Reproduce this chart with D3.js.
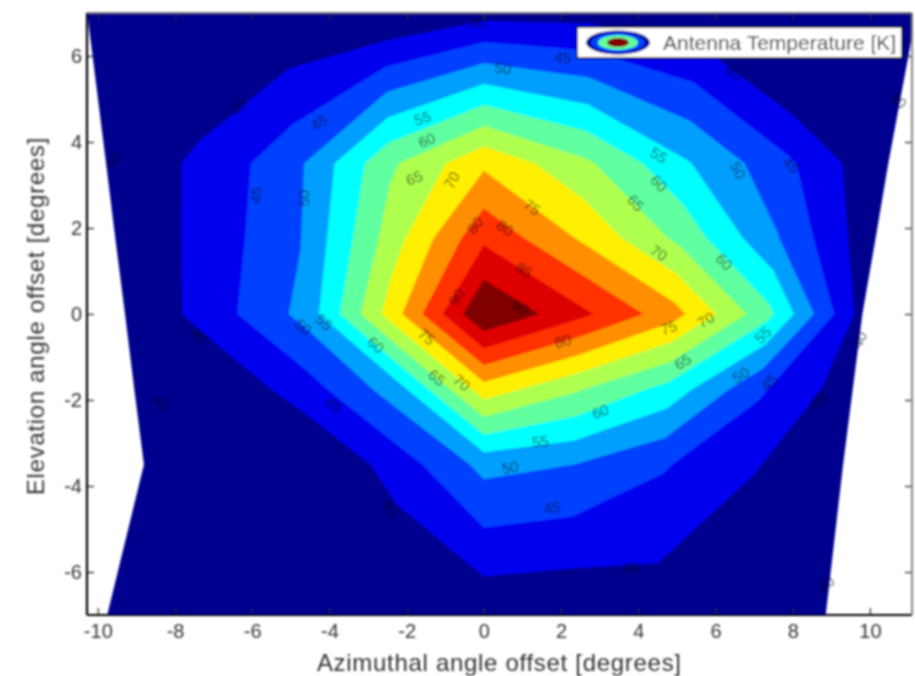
<!DOCTYPE html>
<html>
<head>
<meta charset="utf-8">
<script src="https://cdn.jsdelivr.net/npm/d3@7"></script>
<style>
  body { margin: 0; background: #fff; }
  text { font-family: "Liberation Sans", Arial, Helvetica, sans-serif; }
</style>
</head>
<body>
<svg id="chart" width="915" height="676"></svg>
<script>
// elevation offset of each scan row [degrees]
const elevations = [7, 3.5, 1.75, 0, -1.75, -3.5, -7];
// azimuth offset of the 9 scan points in each row [degrees]
const azimuths = [
  [-10.27, -7.70, -5.14, -2.57, 0, 2.80, 5.60, 8.40, 11.20],
  [-9.78, -7.34, -4.89, -2.45, 0, 2.62, 5.24, 7.85, 10.47],
  [-9.54, -7.15, -4.77, -2.38, 0, 2.53, 5.07, 7.60, 10.14],
  [-9.29, -6.97, -4.65, -2.32, 0, 2.45, 4.90, 7.35, 9.80],
  [-9.05, -6.79, -4.53, -2.26, 0, 2.39, 4.78, 7.17, 9.55],
  [-8.80, -6.60, -4.40, -2.20, 0, 2.33, 4.65, 6.98, 9.30],
  [-9.75, -7.31, -4.88, -2.44, 0, 2.21, 4.43, 6.64, 8.85]
];
// antenna temperature measured at each scan point [K]
const temperature = [
  [34, 34, 35, 34.5, 38, 38, 36, 27, 32],
  [36, 41, 48.5, 64, 74, 66, 55.5, 46, 35],
  [35.5, 41.8, 49.7, 67.6, 84, 74.4, 63.8, 50.3, 36],
  [35, 42.8, 51.5, 73, 95, 86.4, 77, 61.5, 38],
  [34, 36, 43, 52.6, 72.8, 65.6, 58.2, 45.7, 37],
  [33, 34, 35, 42.5, 51.5, 50, 45.5, 40.5, 35],
  [33, 33, 33, 33, 36, 35.5, 37.1, 34, 33]
];
const levels = [40, 45, 50, 55, 60, 65, 70, 75, 80, 85, 90];
const xTicks = [-10, -8, -6, -4, -2, 0, 2, 4, 6, 8, 10];
const yTicks = [-6, -4, -2, 0, 2, 4, 6];
// clabel positions: [azimuth, elevation, level]
const contourLabels = [
  [0.49, 5.71, 50], [2.05, 5.96, 45], [-4.27, 4.45, 45], [-6.35, 4.8, 40], [-9.6, 3.57, 40],
  [-1.59, 4.55, 55], [-1.48, 4.04, 60], [-1.8, 3.16, 65], [-0.83, 3.11, 70],
  [-5.9, 2.76, 45], [-4.66, 2.69, 50], [1.25, 2.48, 75], [-0.23, 2.06, 80], [0.55, 2.0, 80],
  [4.53, 3.69, 55], [4.53, 3.04, 60], [3.93, 2.58, 65], [6.58, 3.34, 50], [7.96, 3.46, 45],
  [4.53, 1.42, 70], [6.22, 1.21, 60], [1.04, 1.02, 85], [-0.7, 0.39, 90], [0.94, 0.16, 90],
  [2.05, -0.63, 80], [-1.48, -0.53, 75], [-4.68, -0.3, 50], [-4.14, -0.19, 55], [-2.8, -0.72, 60],
  [-1.22, -1.48, 65], [-0.57, -1.6, 70], [4.79, -0.32, 75], [5.75, -0.14, 70], [5.15, -1.11, 65],
  [7.23, -0.49, 55], [6.66, -1.42, 50], [7.39, -1.6, 45], [8.66, -2.0, 40], [9.73, -0.6, 40],
  [3.02, -2.27, 60], [1.46, -2.97, 55], [0.68, -3.57, 50], [1.77, -4.5, 45], [-2.44, -4.5, 40],
  [-3.88, -2.11, 45], [-7.39, -0.49, 40], [-8.4, -2.07, 40], [3.8, -5.89, 40], [8.87, -6.29, 40],
  [10.74, 4.97, 40], [6.45, 5.6, 40], [-0.16, 6.77, 40]
];
const legendLabel = "Antenna Temperature [K]";

const outerWidth = 915, outerHeight = 676;
const margin = {top: 13, right: 3, bottom: 61, left: 87};
const width = outerWidth - margin.left - margin.right;
const height = outerHeight - margin.top - margin.bottom;

// matlab jet(64) colormap, one row per filled band
function jet(t) {
  const c = v => Math.round(255 * Math.max(0, Math.min(1, v)));
  return d3.rgb(c(1.5 - Math.abs(4 * t - 3)), c(1.5 - Math.abs(4 * t - 2)), c(1.5 - Math.abs(4 * t - 1))).formatHex();
}
const bandColors = d3.range(levels.length + 1)
  .map(k => jet((Math.round(k * 63 / levels.length) + 1) / 64));

const svg = d3.select("#chart");
const defs = svg.append("defs");
defs.append("filter").attr("id", "soft")
  .attr("x", "-5%").attr("y", "-5%").attr("width", "110%").attr("height", "110%")
  .append("feGaussianBlur").attr("stdDeviation", 1.0);
defs.append("clipPath").attr("id", "plotclip")
  .append("rect").attr("width", width).attr("height", height);

const root = svg.append("g").attr("filter", "url(#soft)");
const g = root.append("g").attr("transform", `translate(${margin.left},${margin.top})`);

const x = d3.scaleLinear().domain([-10.28, 11.09]).range([0, width]);
const y = d3.scaleLinear().domain([-7, 7]).range([height, 0]);

// contour the scan grid in index space, then map onto the measured az/el positions
const nx = azimuths[0].length, ny = elevations.length;
const flat = temperature.flat();
const contours = d3.contours().size([nx, ny]).thresholds([d3.min(flat), ...levels])(flat);

function toPixel([gx, gy]) {
  const u = Math.max(0, Math.min(nx - 1, gx - 0.5));
  const v = Math.max(0, Math.min(ny - 1, gy - 0.5));
  const i = Math.min(nx - 2, Math.floor(u)), j = Math.min(ny - 2, Math.floor(v));
  const fu = u - i, fv = v - j;
  const az = (1 - fv) * ((1 - fu) * azimuths[j][i] + fu * azimuths[j][i + 1])
           + fv * ((1 - fu) * azimuths[j + 1][i] + fu * azimuths[j + 1][i + 1]);
  const el = (1 - fv) * elevations[j] + fv * elevations[j + 1];
  return [x(az), y(el)];
}
const rings = contours.map(c => c.coordinates.flatMap(poly => poly.map(ring => ring.map(toPixel))));

const plot = g.append("g").attr("clip-path", "url(#plotclip)");
plot.selectAll("path.band")
  .data(rings)
  .join("path")
  .attr("class", "band")
  .attr("fill", (d, k) => bandColors[k])
  .attr("fill-rule", "evenodd")
  .attr("stroke", (d, k) => bandColors[k])
  .attr("stroke-width", 0.4)
  .attr("d", d => d.map(r => "M" + r.join("L") + "Z").join(""));

// contour labels, rotated along the nearest piece of their own contour
function angleAt(px, py, level) {
  const k = levels.indexOf(level) + 1;
  let best = Infinity, ang = 0;
  rings[k].forEach(r => {
    for (let s = 0; s < r.length - 1; s++) {
      const [ax, ay] = r[s], [bx, by] = r[s + 1];
      const dx = bx - ax, dy = by - ay, L = dx * dx + dy * dy || 1;
      const t = Math.max(0, Math.min(1, ((px - ax) * dx + (py - ay) * dy) / L));
      const d = (ax + t * dx - px) ** 2 + (ay + t * dy - py) ** 2;
      if (d < best) { best = d; ang = Math.atan2(dy, dx) * 180 / Math.PI; }
    }
  });
  if (ang > 90) ang -= 180;
  if (ang < -90) ang += 180;
  return ang;
}
plot.selectAll("text.clabel")
  .data(contourLabels)
  .join("text")
  .attr("class", "clabel")
  .attr("transform", d => `translate(${x(d[0])},${y(d[1])}) rotate(${angleAt(x(d[0]), y(d[1]), d[2])})`)
  .attr("text-anchor", "middle")
  .attr("dy", "0.35em")
  .attr("font-size", 15)
  .attr("fill", "#000")
  .attr("fill-opacity", 0.6)
  .text(d => d[2]);

// axes
const xAxis = d3.axisBottom(x).tickValues(xTicks).tickSize(-7).tickSizeOuter(0).tickPadding(9).tickFormat(d => String(d));
const yAxis = d3.axisLeft(y).tickValues(yTicks).tickSize(-7).tickSizeOuter(0).tickPadding(5).tickFormat(d => String(d));
const gx = g.append("g").attr("transform", `translate(0,${height})`).call(xAxis);
const gy = g.append("g").call(yAxis);
g.append("g").call(d3.axisTop(x).tickValues(xTicks).tickSize(-7).tickSizeOuter(0).tickFormat(""));
g.append("g").attr("transform", `translate(${width},0)`).call(d3.axisRight(y).tickValues(yTicks).tickSize(-7).tickSizeOuter(0).tickFormat(""));
g.selectAll(".domain").remove();
g.selectAll(".tick line").attr("stroke", "#222").attr("stroke-width", 1.2);
[gx, gy].forEach(a => a.selectAll("text").attr("font-size", 20).attr("fill", "#333"));

g.append("line").attr("x1", 0).attr("x2", width).attr("y1", 0).attr("y2", 0).attr("stroke", "#666").attr("stroke-width", 1.6);
g.append("line").attr("x1", width).attr("x2", width).attr("y1", 0).attr("y2", height).attr("stroke", "#666").attr("stroke-width", 1.6);
g.append("line").attr("x1", 0).attr("x2", 0).attr("y1", 0).attr("y2", height).attr("stroke", "#000").attr("stroke-width", 2.2);
g.append("line").attr("x1", 0).attr("x2", width).attr("y1", height).attr("y2", height).attr("stroke", "#000").attr("stroke-width", 2.2);

g.append("text")
  .attr("x", x(0.4)).attr("y", height + 56)
  .attr("text-anchor", "middle").attr("font-size", 24).attr("letter-spacing", 0.7).attr("fill", "#333")
  .text("Azimuthal angle offset [degrees]");
g.append("text")
  .attr("transform", `translate(${-43},${y(-0.05)}) rotate(-90)`)
  .attr("text-anchor", "middle").attr("font-size", 24).attr("letter-spacing", 0.7).attr("fill", "#333")
  .text("Elevation angle offset [degrees]");

// legend
const lg = g.append("g").attr("transform", `translate(${width - 335},14)`);
lg.append("rect").attr("width", 325).attr("height", 31).attr("fill", "#fff").attr("stroke", "#000").attr("stroke-width", 1.5);
const icon = [[32, 12, 0], [27, 10, 2], [20, 7.5, 5], [11, 4.5, 11]];
lg.selectAll("ellipse")
  .data(icon)
  .join("ellipse")
  .attr("cx", 41).attr("cy", 15.5)
  .attr("rx", d => d[0]).attr("ry", d => d[1])
  .attr("fill", d => bandColors[d[2]]);
lg.append("text").attr("x", 86).attr("y", 23).attr("font-size", 21).attr("fill", "#333").text(legendLabel);
</script>
</body>
</html>
